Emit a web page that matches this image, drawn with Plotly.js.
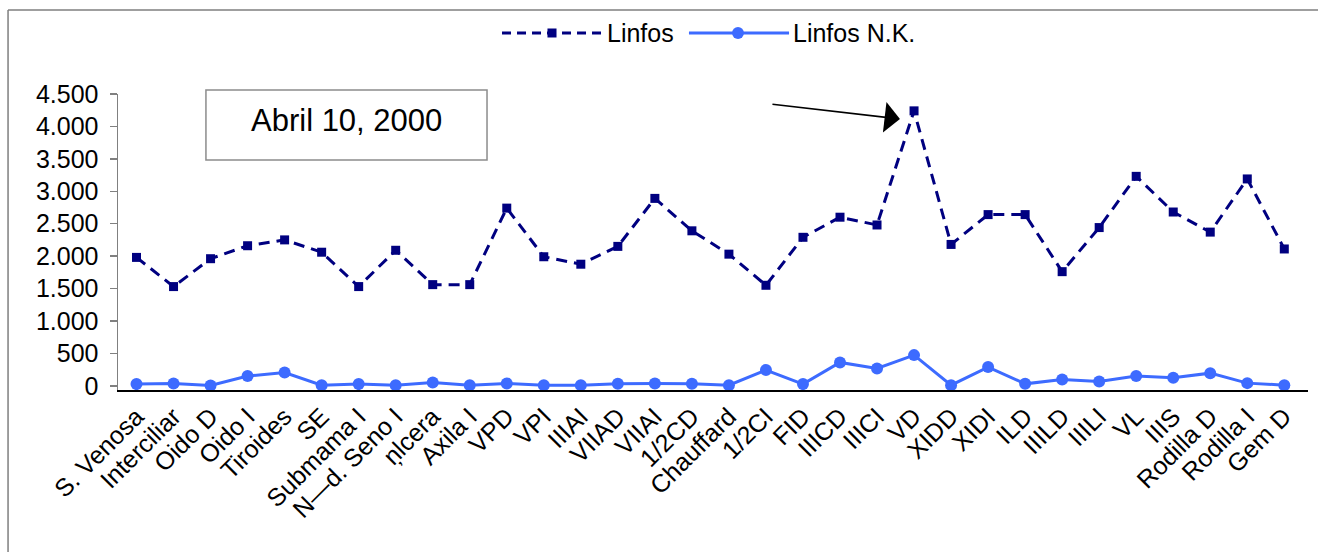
<!DOCTYPE html>
<html>
<head>
<meta charset="utf-8">
<script src="https://cdn.plot.ly/plotly-3.0.1.min.js"></script>
<style>
  html, body { margin: 0; padding: 0; background: #fff; overflow: hidden; }
  #chart { width: 1318px; height: 552px; overflow: hidden; }
</style>
</head>
<body>
<div id="chart"></div>
<script>
// Puntos de muestreo
const categories = [
  "S. Venosa", "Interciliar", "Oido D", "Oido I", "Tiroides", "SE",
  "Submama I", "N\u2014d. Seno I", "\u0146lcera", "Axila I", "VPD", "VPI",
  "IIIAI", "VIIAD", "VIIAI", "1/2CD", "Chauffard", "1/2CI", "FID", "IIICD",
  "IIICI", "VD", "XIDD", "XIDI", "ILD", "IIILD", "IIILI", "VL", "IIIS",
  "Rodilla D", "Rodilla I", "Gem D"
];

// Linfocitos totales
const linfos = [
  1980, 1530, 1960, 2160, 2250, 2060, 1530, 2090, 1560, 1560, 2740, 1990,
  1875, 2150, 2890, 2390, 2030, 1550, 2290, 2600, 2480, 4240, 2180, 2640,
  2640, 1760, 2440, 3230, 2680, 2370, 3190, 2110
];

// Linfocitos N.K.
const linfosNK = [
  26, 36, 5, 150, 205, 10, 26, 10, 50, 10, 36, 10,
  10, 30, 36, 30, 10, 242, 26, 360, 267, 473, 10, 288,
  30, 97, 67, 150, 123, 195, 41, 10
];

const yTicks = [0, 500, 1000, 1500, 2000, 2500, 3000, 3500, 4000, 4500];
const seriesNames = ["Linfos", "Linfos N.K."];
const seriesColors = ["#000080", "#3d6bff"];

const FONT = "Liberation Sans, Arial, sans-serif";
const FS = 25;
const DASH = "11px,7px";

const traces = [
  {
    x: categories, y: linfos, name: seriesNames[0], type: "scatter", mode: "lines+markers",
    line: { color: seriesColors[0], width: 3, dash: DASH },
    marker: { symbol: "square", size: 9, color: seriesColors[0] },
    showlegend: false
  },
  {
    x: categories, y: linfosNK, name: seriesNames[1], type: "scatter", mode: "lines+markers",
    line: { color: seriesColors[1], width: 3 },
    marker: { symbol: "circle", size: 12, color: seriesColors[1] },
    showlegend: false
  }
];

// Leyenda superior: muestra de línea con marcador y rótulo
const LY = 1.2061;
const legendShapes = [
  { type: "line", xref: "paper", yref: "paper", x0: 0.3227, x1: 0.4067, y0: LY, y1: LY,
    line: { color: seriesColors[0], width: 3, dash: "9px,6px" } },
  { type: "rect", xref: "paper", yref: "paper", x0: 0.3647 - 0.0038, x1: 0.3647 + 0.0038,
    y0: LY - 0.0152, y1: LY + 0.0152, line: { width: 0 }, fillcolor: seriesColors[0] },
  { type: "line", xref: "paper", yref: "paper", x0: 0.4798, x1: 0.5639, y0: LY, y1: LY,
    line: { color: seriesColors[1], width: 3 } },
  { type: "circle", xref: "paper", yref: "paper", x0: 0.5210 - 0.0050, x1: 0.5210 + 0.0050,
    y0: LY - 0.0203, y1: LY + 0.0203, line: { width: 0 }, fillcolor: seriesColors[1] }
];
const legendLabels = [
  { xref: "paper", yref: "paper", x: 0.4095, y: LY, text: seriesNames[0], showarrow: false,
    xanchor: "left", yanchor: "middle", font: { family: FONT, size: FS, color: "#000" } },
  { xref: "paper", yref: "paper", x: 0.5658, y: LY, text: seriesNames[1], showarrow: false,
    xanchor: "left", yanchor: "middle", font: { family: FONT, size: FS, color: "#000" } }
];

const layout = {
  width: 1318, height: 552,
  margin: { l: 118, r: 10, t: 94, b: 162 },
  paper_bgcolor: "#fff", plot_bgcolor: "#fff",
  separators: ",.",
  font: { family: FONT, size: FS, color: "#000" },
  showlegend: false,
  xaxis: {
    type: "category", range: [-0.5, 31.64],
    showline: true, linecolor: "#000", linewidth: 2,
    ticks: "", showgrid: false, zeroline: false,
    tickangle: -45, tickfont: { family: FONT, size: FS, color: "#000" }
  },
  yaxis: {
    range: [-65, 4500], tickvals: yTicks, tickformat: ",d",
    showline: true, linecolor: "#808080", linewidth: 1.5,
    ticks: "outside", ticklen: 7, tickcolor: "#808080", tickwidth: 1.5,
    ticklabelstandoff: 6,
    showgrid: false, zeroline: false,
    tickfont: { family: FONT, size: FS, color: "#000" }
  },
  shapes: [
    // marco exterior (bordes superior e izquierdo)
    { type: "line", xref: "paper", yref: "paper", x0: -0.0924, x1: 1.0084, y0: 1.2838, y1: 1.2838,
      line: { color: "#7f7f7f", width: 1.5 } },
    { type: "line", xref: "paper", yref: "paper", x0: -0.0924, x1: -0.0924, y0: -0.547, y1: 1.2838,
      line: { color: "#7f7f7f", width: 1.5 } },
    // recuadro de la fecha
    { type: "rect", xref: "paper", yref: "paper", x0: 0.0739, x1: 0.3101, y0: 0.777, y1: 1.0135,
      line: { color: "#8c8c8c", width: 1.5 }, fillcolor: "#fff" }
  ].concat(legendShapes),
  annotations: [
    { xref: "paper", yref: "paper", x: 0.192, y: 0.912, text: "Abril 10, 2000",
      showarrow: false, font: { family: FONT, size: 31, color: "#000" },
      xanchor: "center", yanchor: "middle" },
    { xref: "paper", yref: "paper", x: 0.6571, y: 0.9155, text: "",
      showarrow: true, ax: -129, ay: -15, arrowhead: 1, arrowsize: 3.2,
      arrowwidth: 1.6, arrowcolor: "#000", standoff: 0 }
  ].concat(legendLabels)
};

Plotly.newPlot("chart", traces, layout, { displayModeBar: false, staticPlot: true });
</script>
</body>
</html>
